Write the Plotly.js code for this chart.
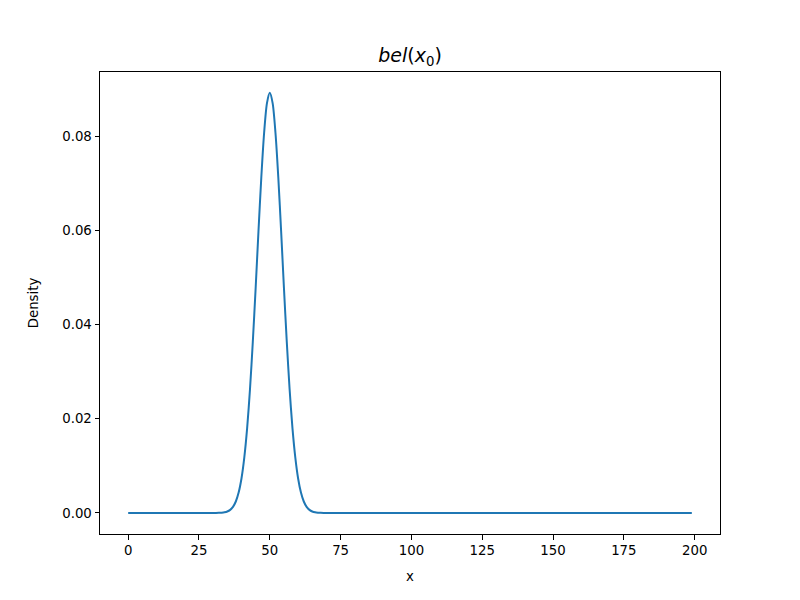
<!DOCTYPE html>
<html><head><meta charset="utf-8">
<script src="https://cdn.plot.ly/plotly-3.0.1.min.js"></script>
<style>body{margin:0;background:#fff}</style>
</head><body>
<div id="chart" style="width:800px;height:600px"></div>
<script>
// x positions (flat tails at both ends, belief peak around 50)
const xValues = [0, 29, 30, 31, 32, 33, 34, 35, 36, 37, 38, 39, 40, 41, 42, 43, 44, 45, 46, 47, 48, 49,
  50, 51, 52, 53, 54, 55, 56, 57, 58, 59, 60, 61, 62, 63, 64, 65, 66, 67, 68, 69, 70, 71, 199];
// density
const density = [0, 0, 0.0000041, 0.0000107, 0.0000271, 0.0000649, 0.000148, 0.000322, 0.000664, 0.00130,
  0.00244, 0.00433, 0.00732, 0.0118, 0.0180, 0.0262, 0.0363, 0.0477, 0.0598, 0.0712, 0.0807, 0.0870,
  0.0892, 0.0870, 0.0807, 0.0712, 0.0598, 0.0477, 0.0363, 0.0262, 0.0180, 0.0118, 0.00732, 0.00433,
  0.00244, 0.00130, 0.000664, 0.000322, 0.000148, 0.0000649, 0.0000271, 0.0000107, 0.0000041, 0, 0];
const xTicks = [0, 25, 50, 75, 100, 125, 150, 175, 200];
const yTicks = [0.00, 0.02, 0.04, 0.06, 0.08];
const yTickLabels = ["0.00", "0.02", "0.04", "0.06", "0.08"];

const font = {family: "DejaVu Sans", size: 13.3, color: "#000"};
const axisCommon = {
  showline: true, linecolor: "#000", linewidth: 1, mirror: true,
  ticks: "outside", ticklen: 4.5, tickwidth: 1, tickcolor: "#000",
  showgrid: false, zeroline: false, tickfont: font
};
Plotly.newPlot("chart", [{
  x: xValues, y: density, type: "scatter", mode: "lines",
  line: {color: "#1f77b4", width: 2, shape: "spline", smoothing: 0.8}, hoverinfo: "skip"
}], {
  width: 800, height: 600,
  paper_bgcolor: "#fff", plot_bgcolor: "#fff",
  margin: {l: 100, r: 80, t: 72, b: 66},
  showlegend: false,
  font: font,
  title: {text: "<i>bel</i>(<i>x</i><sub>0</sub>)", font: {family: "DejaVu Sans", size: 19, color: "#000"},
    xref: "paper", x: 0.5, xanchor: "center", y: 1 - 55/600, yanchor: "middle"},
  xaxis: Object.assign({}, axisCommon, {
    range: [-9.95, 208.95], tickvals: xTicks,
    title: {text: "x", font: font, standoff: 14}
  }),
  yaxis: Object.assign({}, axisCommon, {
    range: [-0.00446, 0.0936], tickvals: yTicks, ticktext: yTickLabels,
    title: {text: "Density", font: font, standoff: 20}
  })
}, {displayModeBar: false, staticPlot: true});
</script>
</body></html>
